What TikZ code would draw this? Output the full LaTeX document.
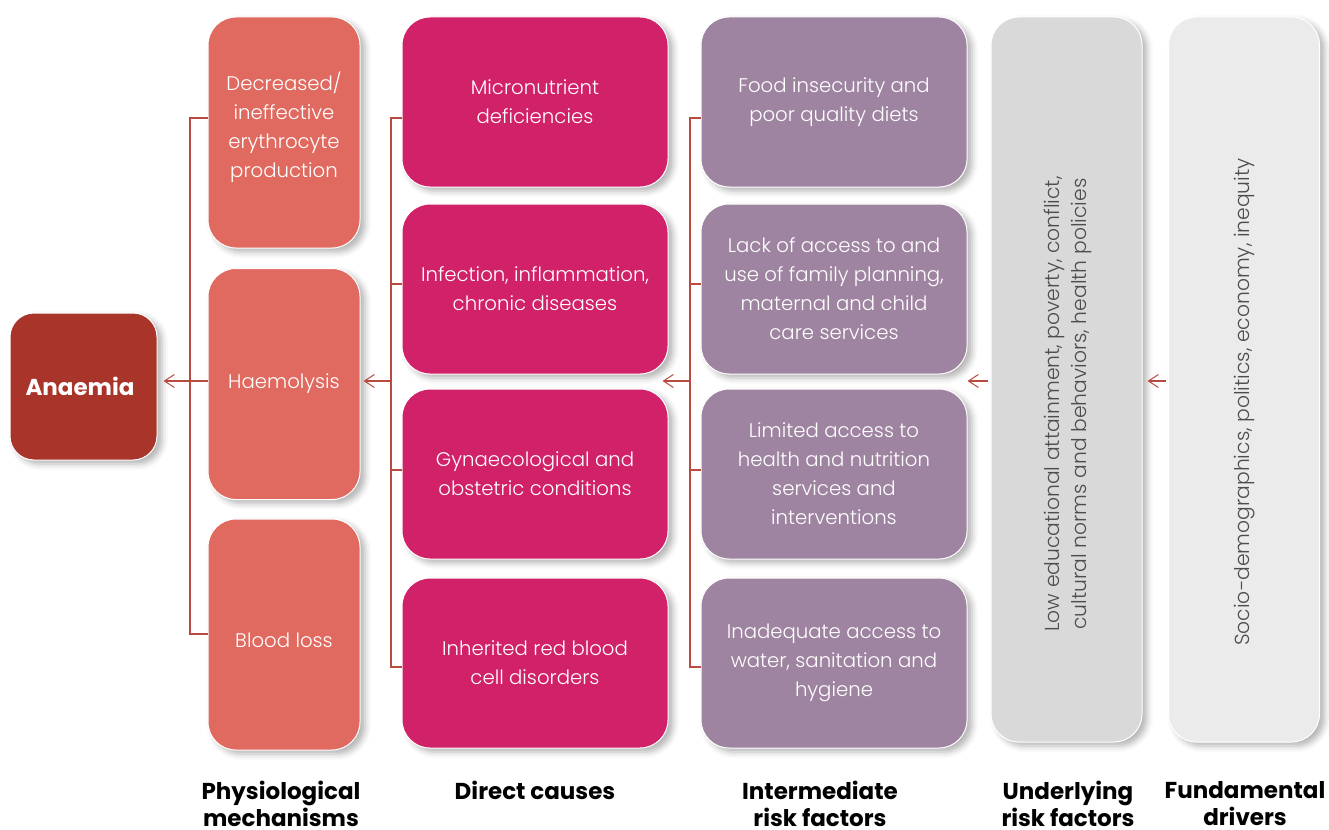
\documentclass[tikz,border=0pt]{standalone}
\usepackage{fontspec}
\setmainfont{Poppins Light}
\newfontfamily\boldfont{Poppins}[UprightFont={* Bold}]
\usetikzlibrary{arrows.meta,shadows.blur}
\definecolor{cAn}{HTML}{A8342A}
\definecolor{cPh}{HTML}{E06A60}
\definecolor{cDi}{HTML}{D12168}
\definecolor{cIn}{HTML}{9E84A0}
\definecolor{cUn}{HTML}{D9D9D9}
\definecolor{cFu}{HTML}{EBEBEB}
\definecolor{cBr}{HTML}{B84A40}
\definecolor{cTx}{HTML}{4D4D4D}
\tikzset{
  boxbase/.style={rectangle, rounded corners=28pt, draw=white, line width=1pt,
    align=center, inner sep=0pt,
    blur shadow={shadow xshift=5pt, shadow yshift=-4pt, shadow blur radius=6pt, shadow opacity=30},
    font=\fontsize{19.7}{29}\selectfont},
  physbox/.style={boxbase, fill=cPh, text=white, minimum width=152pt, minimum height=231pt},
  dirbox/.style={boxbase, fill=cDi, text=white, minimum width=266pt, minimum height=170pt},
  intbox/.style={boxbase, fill=cIn, text=white, minimum width=266pt, minimum height=170pt},
  tallbox/.style={boxbase, text=cTx, minimum width=151pt, minimum height=725pt},
  anbox/.style={boxbase, rounded corners=24pt, fill=cAn, text=white, minimum width=147pt, minimum height=147pt},
  rottext/.style={rotate=90, align=center, text=cTx, font=\fontsize{20.3}{27}\selectfont, inner sep=0pt},
  br/.style={draw=cBr, line width=1.2pt},
  arr/.style={draw=cBr, line width=1.2pt, -{Straight Barb[length=10pt,width=13pt,line width=1pt]}},
  collabel/.style={anchor=north, align=center, font=\boldfont\fontsize{23}{27}\selectfont, text=black, inner sep=0pt}
}
\begin{document}
\begin{tikzpicture}[x=1pt,y=-1pt]
\useasboundingbox (0,0) rectangle (1329,829);
% boxes
\node[anbox] (an) at (83.5,386.5) {};
\node[text=white, font=\boldfont\fontsize{23}{27}\selectfont, inner sep=0pt] (ant) at (80,386.5) {Anaemia};
\node[physbox] (p1) at (284,132.5) {};
\node[align=center, text=white, font=\fontsize{19.7}{29}\selectfont, inner sep=0pt] (p1t) at (284,127.5) {Decreased/\\ineffective\\erythrocyte\\production};
\node[physbox] (p2) at (284,384) {Haemolysis};
\node[physbox] (p3) at (284,634.5) {};
\node[text=white, font=\fontsize{19.7}{29}\selectfont, inner sep=0pt] (p3t) at (284,640) {Blood loss};
\node[dirbox] (d1) at (535,102) {Micronutrient\\deficiencies};
\node[dirbox] (d2) at (535,289) {Infection, inflammation,\\chronic diseases};
\node[dirbox] (d3) at (535,474) {Gynaecological and\\obstetric conditions};
\node[dirbox] (d4) at (535,663) {Inherited red blood\\cell disorders};
\node[intbox] (i1) at (834,102) {Food insecurity and\\poor quality diets};
\node[intbox] (i2) at (834,289) {Lack of access to and\\use of family planning,\\maternal and child\\care services};
\node[intbox] (i3) at (834,474) {Limited access to\\health and nutrition\\services and\\interventions};
\node[intbox] (i4) at (834,663) {Inadequate access to\\water, sanitation and\\hygiene};
\node[tallbox, fill=cUn] (u) at (1066.5,379.5) {};
\node[tallbox, fill=cFu] (f) at (1244,379.5) {};
\node[rottext] (ut) at (1068,404) {Low educational attainment, poverty, conflict,\\cultural norms and behaviors, health policies};
\node[rottext] (ft) at (1245,402) {Socio-demographics, politics, economy, inequity};
% brackets
\coordinate (jp) at (190,381);
\coordinate (jd) at (391,381);
\coordinate (ji) at (690,381);
\coordinate (ju) at (988,381);
\coordinate (jf) at (1166,381);
\draw[br] (p1.west |- 0,118) -- (190,118) -- (190,634) -- (p3.west |- 0,634);
\draw[br] (d1.west |- 0,118) -- (391,118) -- (391,667) -- (d4.west |- 0,667);
\draw[br] (d2.west |- 0,284) -- (391,284);
\draw[br] (d3.west |- 0,470) -- (391,470);
\draw[br] (i1.west |- 0,118) -- (690,118) -- (690,667) -- (i4.west |- 0,667);
\draw[br] (i2.west |- 0,284) -- (690,284);
\draw[br] (i3.west |- 0,470) -- (690,470);
% arrows
\draw[arr, shorten >=6pt] (p2.west |- jp) -- (an.east |- jp);
\draw[arr, shorten >=3pt] (jd) -- (p2.east |- jd);
\draw[arr, shorten >=-6pt] (ji) -- (d2.east |- ji);
\draw[arr] (ju) -- (i2.east |- ju);
\draw[arr, shorten >=5pt] (jf) -- (u.east |- jf);
% column labels
\node[collabel] (lp) at (281,781) {Physiological\\mechanisms};
\node[collabel] (ld) at (535,781) {Direct causes};
\node[collabel] (li) at (820,781) {Intermediate\\risk factors};
\node[collabel] (lu) at (1068,781) {Underlying\\risk factors};
\node[collabel] (lf) at (1245,781) {Fundamental\\drivers};
\end{tikzpicture}
\end{document}
